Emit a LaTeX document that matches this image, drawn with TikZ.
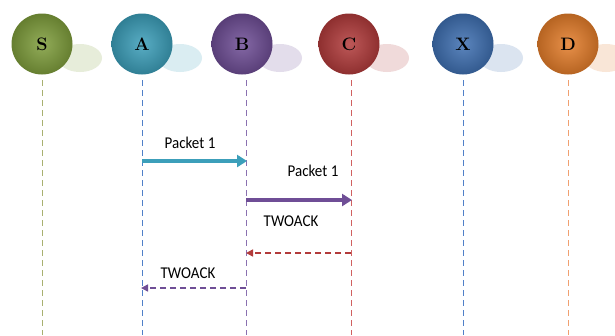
\documentclass[tikz,border=0pt]{standalone}
\usepackage{fontspec}
\newfontfamily\lblfont{Carlito}
\usetikzlibrary{arrows.meta}
\definecolor{cS}{HTML}{7F9E3C}
\definecolor{cA}{HTML}{3C9FBA}
\definecolor{cB}{HTML}{6F4E96}
\definecolor{cC}{HTML}{B23B3B}
\definecolor{cX}{HTML}{3F70B2}
\definecolor{cD}{HTML}{E47D2A}
\definecolor{lnS}{HTML}{A8B070}
\definecolor{lnB}{HTML}{8A70B0}
\definecolor{lnC}{HTML}{D06060}
\definecolor{lnX}{HTML}{5080C8}
\definecolor{lnD}{HTML}{F0A070}
\tikzset{
  ball/.style={circle, minimum size=61pt, inner sep=0pt, font=\bfseries\fontsize{18}{18}\selectfont,
    inner color=#1!85!white, outer color=#1!80!black},
  shade/.style={fill=#1!22, opacity=0.85},
  life/.style={dash pattern=on 6pt off 4pt, line width=1pt, draw=#1},
  msg/.style={line width=3.6pt, draw=#1, -{Triangle[length=10pt,width=12pt]}},
  ack/.style={line width=1.5pt, draw=#1, dash pattern=on 6pt off 4pt, -{Triangle[length=7pt,width=7pt]}},
  lbl/.style={font=\lblfont\fontsize{15}{15}\selectfont, inner sep=1pt, yscale=1.1}
}
\begin{document}
\begin{tikzpicture}[x=1pt,y=-1pt]
\useasboundingbox[fill=white] (0,0) rectangle (615,335);
% shadows
\foreach \x/\c in {42/cS,142/cA,242/cB,349/cC,463/cX,568/cD}{
  \fill[shade=\c] (\x+38,58) ellipse (22pt and 14pt);
}
% lifelines
\coordinate (Sb) at (42,335); \coordinate (Ab) at (142,335); \coordinate (Bb) at (246,335);
\coordinate (Cb) at (351,335); \coordinate (Xb) at (463,335); \coordinate (Db) at (568,335);
\node[ball=cS] (S) at (42,44) {S};
\node[ball=cA] (A) at (142,44) {A};
\node[ball=cB] (B) at (242,44) {B};
\node[ball=cC] (C) at (349,44) {C};
\node[ball=cX] (X) at (463,44) {X};
\node[ball=cD] (D) at (568,44) {D};
\draw[life=lnS] (42,80) -- (Sb);
\draw[life=lnX] (142,80) -- (Ab);
\draw[life=lnB] (246,80) -- (Bb);
\draw[life=lnC] (351,80) -- (Cb);
\draw[life=lnX] (463,80) -- (Xb);
\draw[life=lnD] (568,80) -- (Db);
% messages
\coordinate (a1) at (142,161); \coordinate (b1) at (247,161);
\coordinate (b2) at (246,200); \coordinate (c2) at (352,200);
\coordinate (c3) at (351,253); \coordinate (b3) at (246,253);
\coordinate (b4) at (246,288); \coordinate (a4) at (141,288);
\draw[msg=cA] (a1) -- (b1);
\draw[msg=cB] (b2) -- (c2);
\draw[ack=cC] (c3) -- (b3);
\draw[ack=cB] (b4) -- (a4);
\node[lbl] (l1) at (190,143) {Packet 1};
\node[lbl] (l2) at (313,171) {Packet 1};
\node[lbl] (l3) at (291,221) {TWOACK};
\node[lbl] (l4) at (188,273) {TWOACK};
\end{tikzpicture}
\end{document}
